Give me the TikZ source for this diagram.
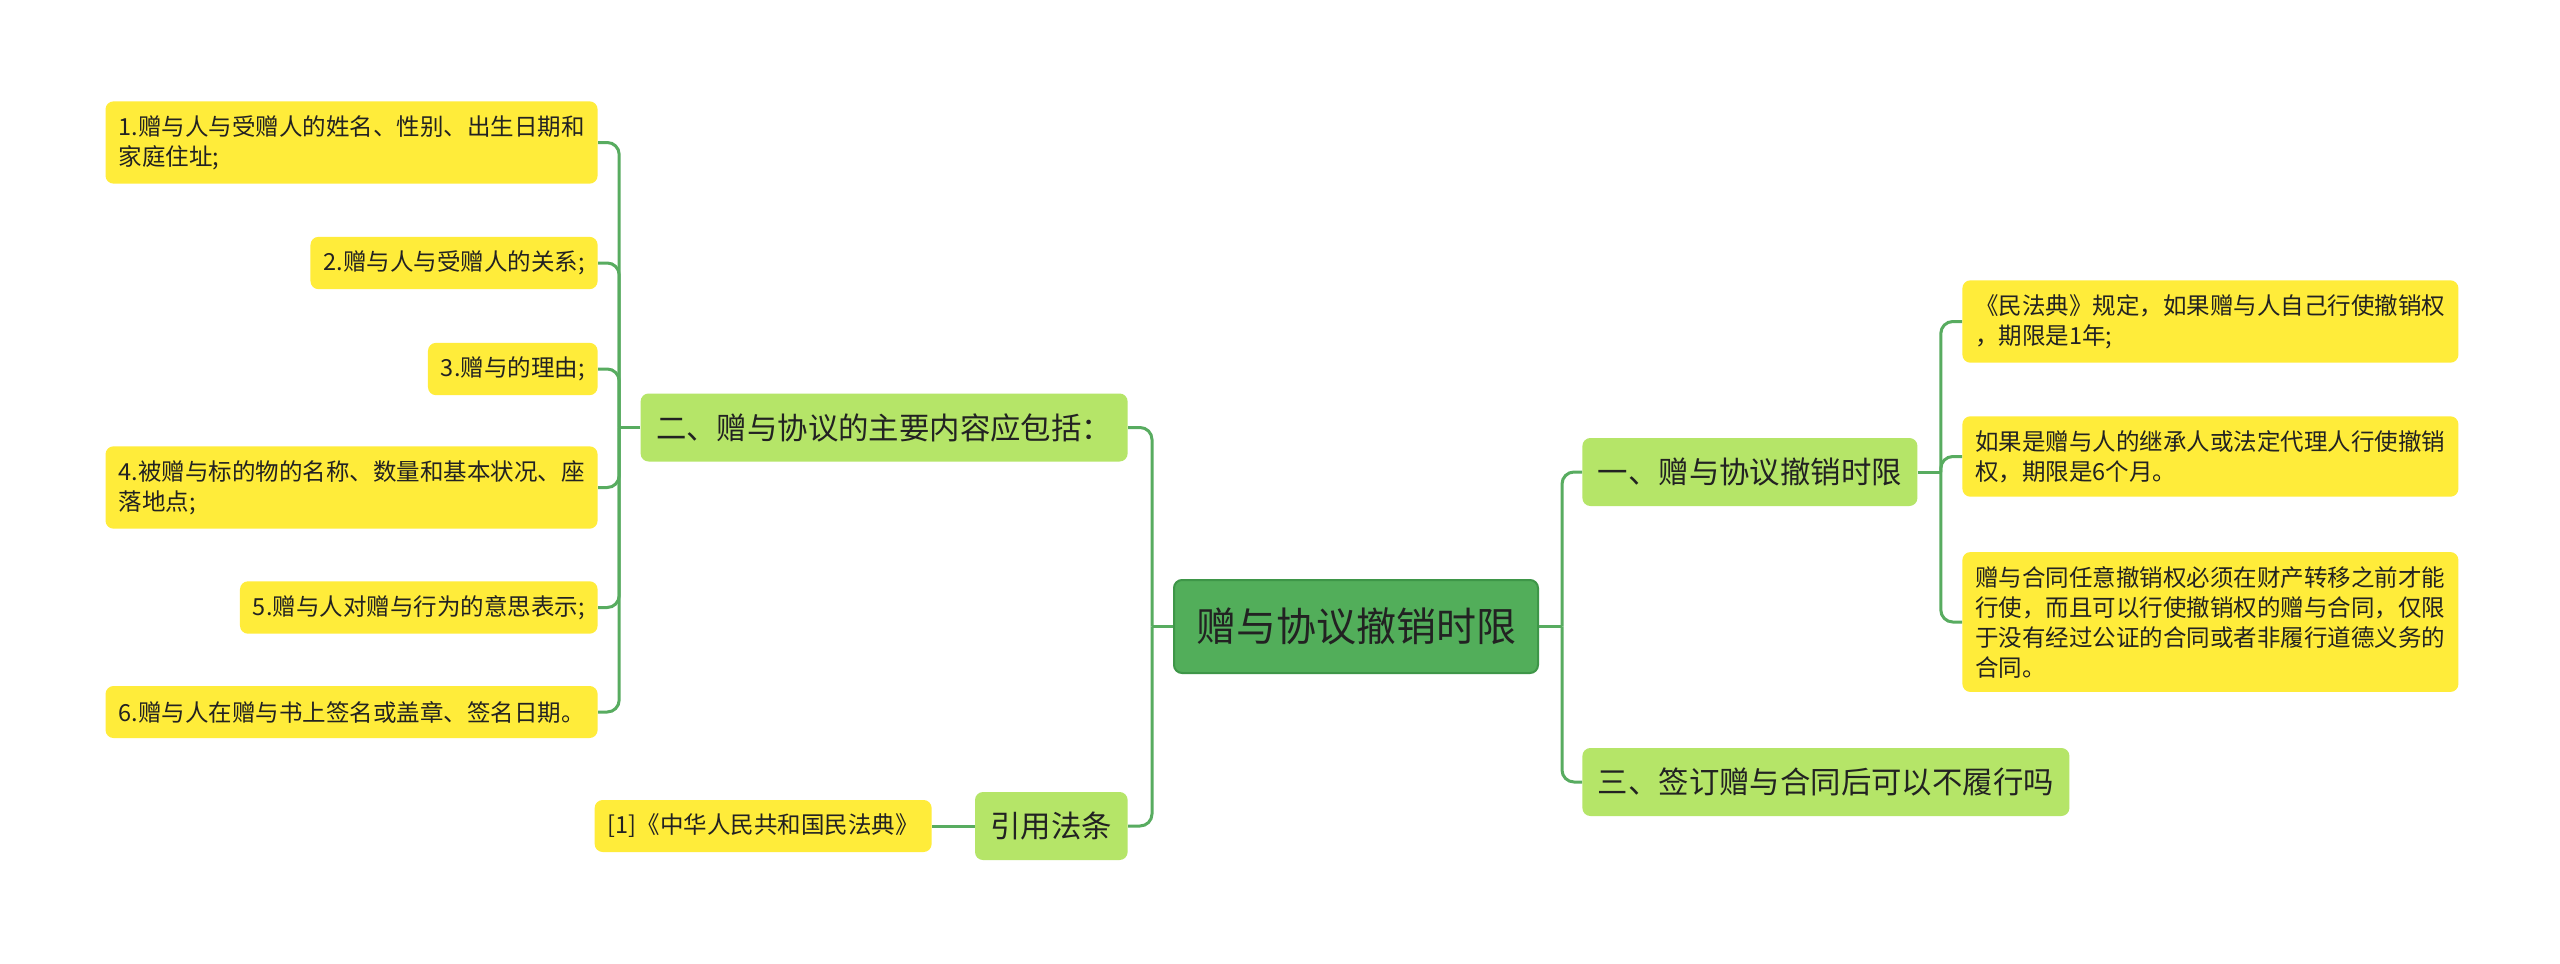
\documentclass[tikz,border=0pt]{standalone}
\usepackage{fontspec}
\setmainfont{Noto Sans CJK SC}
\usepackage{tikz}
\usetikzlibrary{positioning,calc}
\usepackage{xcolor}
\definecolor{ink}{RGB}{34,34,34}
\definecolor{hubfill}{RGB}{82,174,90}
\definecolor{hubline}{RGB}{62,150,72}
\definecolor{topfill}{RGB}{181,229,104}
\definecolor{leaffill}{RGB}{255,236,58}
\definecolor{wire}{RGB}{88,172,96}
\tikzset{
  hub/.style={draw=hubline,line width=1pt,fill=hubfill,rounded corners=4pt,
    inner xsep=11pt,minimum height=46.5pt,text=ink,
    font=\fontsize{20pt}{24pt}\selectfont},
  branch/.style={fill=topfill,rounded corners=4pt,inner xsep=7.75pt,
    minimum height=34pt,text=ink,font=\fontsize{15.2pt}{18pt}\selectfont},
  leaf/.style={fill=leaffill,rounded corners=4pt,inner xsep=6.5pt,
    inner ysep=7pt,minimum height=26pt,align=left,text=ink,
    font=\fontsize{11.75pt}{15pt}\selectfont},
  link/.style={draw=wire,line width=1.5pt,rounded corners=6pt},
}
\begin{document}
\begin{tikzpicture}[x=0.5pt,y=-0.5pt]
  \fill[white] (0,0) rectangle (2560,964);
  \useasboundingbox (0,0) rectangle (2560,964);
  \node[hub] (root) at (1356,626.5) {赠与协议撤销时限};
  \node[branch,anchor=east] (content) at (1128,427.5) {二、赠与协议的主要内容应包括：};
  \node[branch,anchor=east] (cite) at (1128,826) {引用法条};
  \node[leaf,anchor=east] (law) at (932,826) {[1]《中华人民共和国民法典》};
  \node[leaf,anchor=east] (c1) at (598,142.5) {1.赠与人与受赠人的姓名、性别、出生日期和\\家庭住址;};
  \node[leaf,anchor=east] (c2) at (598,263) {2.赠与人与受赠人的关系;};
  \node[leaf,anchor=east] (c3) at (598,369) {3.赠与的理由;};
  \node[leaf,anchor=east] (c4) at (598,487.5) {4.被赠与标的物的名称、数量和基本状况、座\\落地点;};
  \node[leaf,anchor=east] (c5) at (598,607.5) {5.赠与人对赠与行为的意思表示;};
  \node[leaf,anchor=east] (c6) at (598,712) {6.赠与人在赠与书上签名或盖章、签名日期。};
  \node[branch,anchor=west] (limit) at (1582,472) {一、赠与协议撤销时限};
  \node[branch,anchor=west] (perform) at (1582,782) {三、签订赠与合同后可以不履行吗};
  \node[leaf,anchor=west] (t1) at (1962,321.5) {《民法典》规定，如果赠与人自己行使撤销权\\，期限是1年;};
  \node[leaf,anchor=west] (t2) at (1962,456.5) {如果是赠与人的继承人或法定代理人行使撤销\\权，期限是6个月。};
  \node[leaf,anchor=west] (t3) at (1962,622) {赠与合同任意撤销权必须在财产转移之前才能\\行使，而且可以行使撤销权的赠与合同，仅限\\于没有经过公证的合同或者非履行道德义务的\\合同。};
  \coordinate (rl) at ($(root.west)+(-21,0)$);
  \coordinate (rr) at ($(root.east)+(23,0)$);
  \coordinate (cl) at ($(content.west)+(-21,0)$);
  \coordinate (lr) at ($(limit.east)+(23,0)$);
  \draw[link] (root.west) -- (rl);
  \draw[link] (rl) |- (content.east);
  \draw[link] (rl) |- (cite.east);
  \draw[link] (root.east) -- (rr);
  \draw[link] (rr) |- (limit.west);
  \draw[link] (rr) |- (perform.west);
  \draw[link] (content.west) -- (cl);
  \foreach \n in {c1,c2,c3,c4,c5,c6}
    \draw[link] (cl) |- (\n.east);
  \draw[link] (limit.east) -- (lr);
  \foreach \n in {t1,t2,t3}
    \draw[link] (lr) |- (\n.west);
  \draw[link] (cite.west) -- (law.east);
\end{tikzpicture}
\end{document}
